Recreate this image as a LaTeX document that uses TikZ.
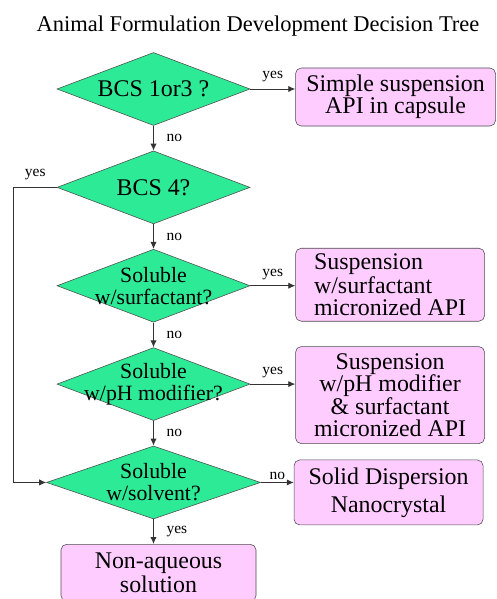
\documentclass[tikz,border=0pt]{standalone}
\usepackage{fontspec}
\setmainfont{Liberation Serif}
\usetikzlibrary{arrows.meta,shapes.geometric,positioning}
\definecolor{diagreen}{RGB}{45,234,150}
\definecolor{boxpink}{RGB}{255,204,255}
\tikzset{
  decision/.style={diamond, shape aspect=2.64, draw=black!70, fill=diagreen, minimum width=4.825cm, minimum height=1.825cm, inner sep=-12pt, align=center, font=\fontsize{15.5}{15.5}\selectfont},
  outcome/.style={rectangle, rounded corners=4pt, draw=black!70, fill=boxpink, minimum width=4.725cm, align=center, font=\fontsize{17}{16}\selectfont}
}

\begin{document}
\begin{tikzpicture}[
    node distance=0.62cm and 1.125cm, % Vertical and horizontal distance between nodes
    arr/.style={-{Latex[length=5pt,width=4.5pt]}, draw=black!80, line width=0.7pt}, % Style for connectors
    lbl/.style={font=\fontsize{11}{12}\selectfont, inner sep=1pt} % Style for yes/no labels
]
    \useasboundingbox (0,0) rectangle (12.425,-14.975);

    % Title
    \node (title) at (6.45,-0.65) {\fontsize{16}{18}\selectfont Animal Formulation Development Decision Tree};

    % Define decisions
    \node (bcs13) [decision, font=\fontsize{17}{16}\selectfont] at (3.8375,-2.225) {BCS 1or3 ?};
    \node (bcs4) [decision, font=\fontsize{17}{16}\selectfont, below=of bcs13] {BCS 4?};
    \node (surf) [decision, below=of bcs4] {Soluble\\w/surfactant?};
    \node (ph) [decision, below=of surf] {Soluble\\w/pH modifier?};
    \node (solv) [decision, minimum width=5.35cm, below=of ph] {Soluble\\w/solvent?};

    % Define outcomes
    \node (simple) [outcome, right=of bcs13, yshift=-0.2cm, minimum width=5cm, minimum height=1.45cm] {Simple suspension\\API in capsule};
    \node (suspsurf) [outcome, right=of surf, yshift=0.025cm, minimum height=1.825cm, inner sep=2pt, align=left, font=\fontsize{17}{15.5}\selectfont] {Suspension\\w/surfactant\\micronized API};
    \node (susph) [outcome, right=of ph, yshift=-0.275cm, minimum height=2.425cm] {Suspension\\w/pH modifier\\\& surfactant\\micronized API};
    \node (soliddisp) [outcome, right=0.825cm of solv, yshift=-0.25cm, minimum height=1.625cm] {Solid Dispersion\\[4pt]Nanocrystal};
    \node (nonaq) [outcome, below=of solv, xshift=0.125cm, minimum width=4.875cm, minimum height=1.425cm, font=\fontsize{17}{14.5}\selectfont] {Non-aqueous\\solution};

    % Draw edges
    \draw[arr] (bcs13.east) -- node[lbl, above=4pt] {yes} (bcs13.east -| simple.west);
    \draw[arr] (bcs13) -- node[lbl, right=8pt] {no} (bcs4);
    \draw[arr] (bcs4) -- node[lbl, right=8pt] {no} (surf);
    \draw[arr] (surf.east) -- node[lbl, above=3pt] {yes} (surf.east -| suspsurf.west);
    \draw[arr] (surf) -- node[lbl, right=8pt] {no} (ph);
    \draw[arr] (ph.east) -- node[lbl, above=3pt] {yes} (ph.east -| susph.west);
    \draw[arr] (ph) -- node[lbl, right=8pt] {no} (solv);
    \draw[arr] (solv.east) -- node[lbl, above=1pt] {no} (solv.east -| soliddisp.west);
    \draw[arr] (solv.south) -- node[lbl, right=8pt] {yes} (solv.south |- nonaq.north);
    \draw[arr] (bcs4.west) -- node[lbl, above=4pt] {yes} ++(-1.075,0) |- (solv.west); % loop round to the last decision

\end{tikzpicture}
\end{document}
